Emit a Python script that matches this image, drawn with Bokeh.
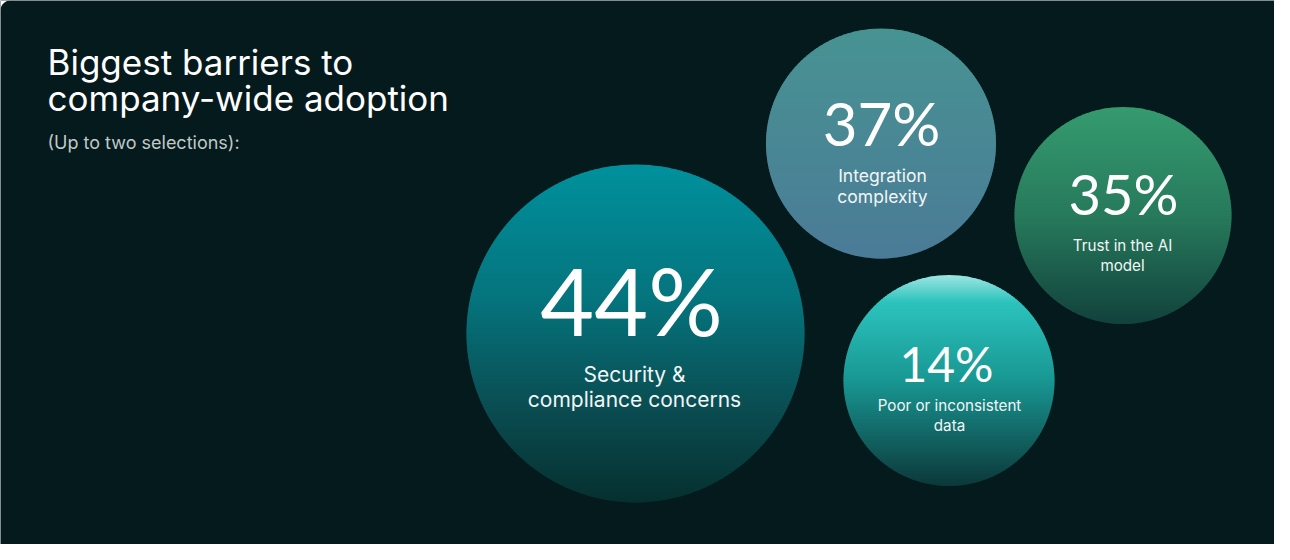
import numpy as np
from bokeh.plotting import figure
from bokeh.models import Range1d
from bokeh.core.properties import value
from bokeh.embed import file_html
from bokeh.resources import INLINE

# ---------------- data ----------------
title_lines = ["Biggest barriers to", "company-wide adoption"]
subtitle = "(Up to two selections):"
categories = ["Security & compliance concerns", "Integration complexity",
              "Trust in the AI model", "Poor or inconsistent data"]
values = [44, 37, 35, 14]
label_lines = [["Security &", "compliance concerns"],
               ["Integration", "complexity"],
               ["Trust in the AI", "model"],
               ["Poor or inconsistent", "data"]]

# ---------------- layout (pixel space of the card) ----------------
cx = [635.0, 880.5, 1122.5, 948.5]
cy = [333.0, 143.0, 215.0, 380.0]
rad = [169.0, 115.0, 108.5, 105.5]
pct_x = [631, 881, 1123, 946]
pct_base = [334, 145, 214, 381]
pct_size = [93, 60, 56, 48]
lab_x = [634, 882, 1122, 949]
lab_base = [380, 180, 250, 410]
lab_gap = [25, 21, 20, 20]
lab_size = [21, 17.5, 15.2, 15.2]

# gradient stops per bubble (top -> bottom)
stops = [
    [(0.0, "#00919d"), (0.40, "#05747d"), (0.72, "#0a4d52"), (1.0, "#06302f")],
    [(0.0, "#479392"), (1.0, "#4b7b97")],
    [(0.0, "#359b6f"), (0.5, "#277a5c"), (1.0, "#12423c")],
    [(0.0, "#9fe6e2"), (0.13, "#2cc3bd"), (0.5, "#189793"), (1.0, "#0c383a")],
]

BG = "#041a1c"
FONT = "Inter"
NUM_FONT = "Lato"
SHIFT = {"Inter": 0.30, "Lato": 0.37}   # baseline correction (em)
CORNER = 10


def hex2rgb(h):
    h = h.lstrip("#")
    return np.array([int(h[i:i + 2], 16) for i in (0, 2, 4)], dtype=float)


def color_at(st, t):
    for (t0, c0), (t1, c1) in zip(st[:-1], st[1:]):
        if t <= t1:
            f = 0 if t1 == t0 else (t - t0) / (t1 - t0)
            c = hex2rgb(c0) * (1 - f) + hex2rgb(c1) * f
            return "#%02x%02x%02x" % tuple(int(round(v)) for v in c)
    c = hex2rgb(st[-1][1])
    return "#%02x%02x%02x" % tuple(int(v) for v in c)


p = figure(width=1274, height=544, x_range=Range1d(0, 1274), y_range=Range1d(544, 0),
           output_backend="svg", toolbar_location=None, min_border=0,
           x_axis_location=None, y_axis_location=None)
p.grid.visible = False
p.outline_line_color = None
p.background_fill_color = BG
p.border_fill_color = BG

# rounded card corner (top-left, the only one inside the frame)
ang = np.linspace(np.pi, 1.5 * np.pi, 20)
corner_x = [0] + list(CORNER + CORNER * np.cos(ang)) + [0]
corner_y = [0] + list(CORNER + CORNER * np.sin(ang)) + [0]
corner_x = [0, 0] + list(CORNER + CORNER * np.cos(ang)) + [CORNER]
corner_y = [0, CORNER] + list(CORNER + CORNER * np.sin(ang)) + [0]
p.patch(corner_x, corner_y, fill_color="#ffffff", line_color=None)

# gradient-filled bubbles as stacked horizontal strips
for i in range(len(values)):
    x0, y0, r = cx[i], cy[i], rad[i]
    h = 1.5
    n = int(np.ceil(2 * r / h))
    xs, ys, cols = [], [], []
    for k in range(n):
        ya = y0 - r + k * h
        yb = min(ya + h + 0.8, y0 + r)
        yy = np.linspace(ya, yb, 5)
        dx = np.sqrt(np.clip(r * r - (yy - y0) ** 2, 0, None))
        px = list(x0 + dx) + list((x0 - dx)[::-1])
        py = list(yy) + list(yy[::-1])
        xs.append(px)
        ys.append(py)
        t = ((ya + yb) / 2 - (y0 - r)) / (2 * r)
        cols.append(color_at(stops[i], min(max(t, 0), 1)))
    p.patches(xs, ys, fill_color=cols, line_color=None)


def put(x, y, txt, size, font, color, align="center"):
    p.text(x=[x], y=[y - SHIFT[font] * size], text=[txt],
           text_font=value(font), text_font_size=f"{size}px",
           text_color=color, text_align=align, text_baseline="alphabetic")


for i, v in enumerate(values):
    put(pct_x[i], pct_base[i], f"{v}%", pct_size[i], NUM_FONT, "#ffffff")
    for j, line in enumerate(label_lines[i]):
        put(lab_x[i], lab_base[i] + j * lab_gap[i], line, lab_size[i], FONT, "#f2f6f6")

# title & subtitle
put(47, 72, title_lines[0], 35, FONT, "#ffffff", "left")
put(47, 108, title_lines[1], 35, FONT, "#ffffff", "left")
put(47, 147, subtitle, 18, FONT, "#c0c9c9", "left")

open("out.html", "w").write(file_html(p, INLINE))
